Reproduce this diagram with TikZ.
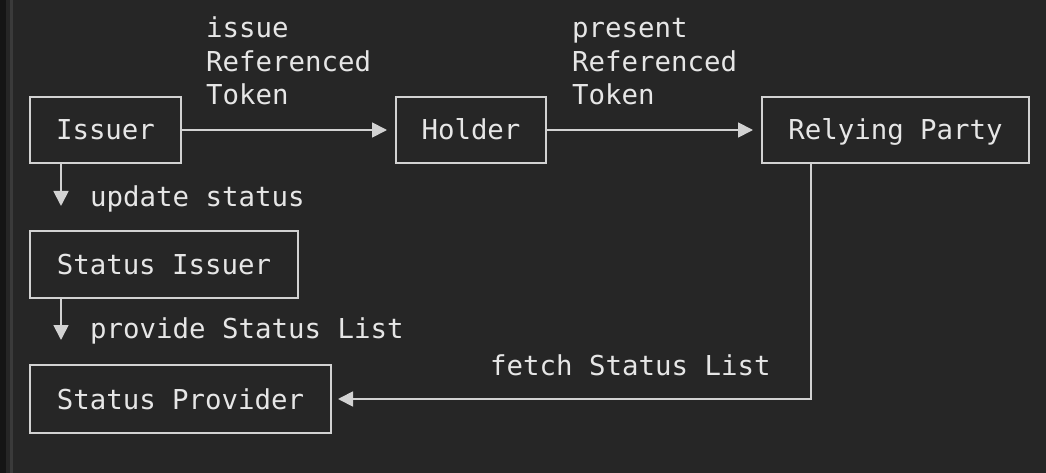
\documentclass[tikz,border=0pt]{standalone}
\usepackage{fontspec}
\setmonofont{DejaVu Sans Mono}
\usetikzlibrary{arrows.meta,calc}

\definecolor{bg}{HTML}{262626}
\definecolor{edge}{HTML}{151515}
\definecolor{rule}{HTML}{3A3A3A}
\definecolor{ink}{HTML}{E6E6E6}
\definecolor{wire}{HTML}{D2D2D2}

\tikzset{
  mono/.style={font=\ttfamily\fontsize{27.4}{33.5}\selectfont, text=ink},
  entity/.style={mono, draw=wire, line width=2pt, rectangle, inner sep=0pt,
    minimum height=66pt, text height=22pt, text depth=2pt},
  tag/.style={mono, inner sep=0pt, anchor=base west, align=left},
  flow/.style={draw=wire, line width=1.8pt,
    -{Triangle[length=15pt,width=15pt]}},
}

\begin{document}
\begin{tikzpicture}[x=1pt,y=-1pt]
  % canvas
  \fill[bg] (0,0) rectangle (1046,473);
  \fill[edge] (0,0) rectangle (6,473);
  \fill[rule] (10,0) rectangle (13,473);
  \useasboundingbox (0,0) rectangle (1046,473);

  % parties
  \node[entity, minimum width=151pt] (issuer) at (105.5,130) {Issuer};
  \node[entity, minimum width=150pt] (holder) at (471,130) {Holder};
  \node[entity, minimum width=267pt] (rp) at (895.5,130) {Relying Party};
  \node[entity, minimum width=268pt, minimum height=67pt] (sissuer) at (164,264.5) {Status Issuer};
  \node[entity, minimum width=301pt, minimum height=68pt] (sprov) at (180.5,399) {Status Provider};

  % token flow (multi-line labels sit on the baseline of their last line)
  \draw[flow, shorten >=8pt] (issuer.east) -- (holder.west);
  \draw[flow, shorten >=8pt] (holder.east) -- (rp.west);
  \node[tag] (lissue) at (206,105) {issue\\Referenced\\Token};
  \node[tag] (lpresent) at (572,105) {present\\Referenced\\Token};

  % status chain
  \draw[flow, shorten >=24pt] ([xshift=32pt]issuer.south west) -- ([xshift=32pt]sissuer.north west);
  \node[tag] (lupdate) at (90,207) {update status};
  \draw[flow, shorten >=24pt] ([xshift=32pt]sissuer.south west) -- ([xshift=32pt]sprov.north west);
  \node[tag] (lprovide) at (90,338) {provide Status List};

  % status lookup
  \draw[flow, shorten >=6pt] ([xshift=50pt]rp.south west) |- (sprov.east);
  \node[tag] (lfetch) at (490,375) {fetch Status List};
\end{tikzpicture}
\end{document}
